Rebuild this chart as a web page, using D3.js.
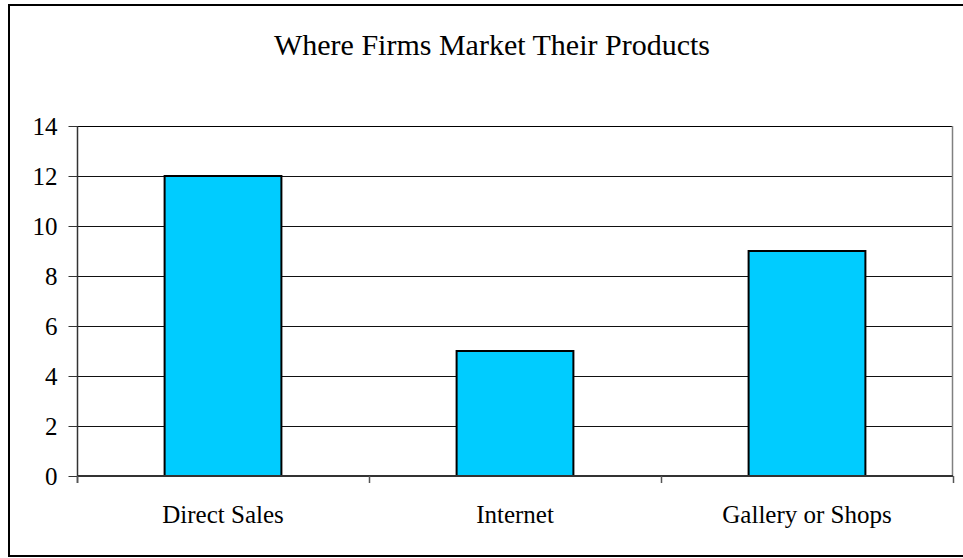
<!DOCTYPE html>
<html>
<head>
<meta charset="utf-8">
<script src="https://cdn.jsdelivr.net/npm/d3@7"></script>
<style>
  html, body { margin: 0; padding: 0; background: #fff; }
  svg { display: block; }
  text { font-family: "Liberation Serif", "Times New Roman", serif; fill: #000; }
</style>
</head>
<body>
<svg id="chart" width="963" height="558"></svg>
<script>
// Chart data
const title = "Where Firms Market Their Products";
const categories = ["Direct Sales", "Internet", "Gallery or Shops"];
const values = [12, 5, 9];
const yTicks = [0, 2, 4, 6, 8, 10, 12, 14];

const svg = d3.select("#chart");
const W = 963, H = 558;
const plot = { left: 77, right: 953, top: 126, bottom: 476 };
const serif = "'Liberation Serif', 'Times New Roman', serif";

// Outer chart frame
svg.append("rect")
  .attr("x", 9).attr("y", 5)
  .attr("width", W).attr("height", H - 7)
  .attr("fill", "#fff").attr("stroke", "#000").attr("stroke-width", 2);

// Scales
const x = d3.scaleBand()
  .domain(categories)
  .range([plot.left, plot.right])
  .paddingInner(0.6)
  .paddingOuter(0.3);
const step = x.step();

const y = d3.scaleLinear()
  .domain([0, 14])
  .range([plot.bottom, plot.top]);

// Horizontal gridlines
svg.append("g")
  .selectAll("line")
  .data(yTicks.filter(d => d > 0))
  .join("line")
  .attr("x1", plot.left).attr("x2", plot.right)
  .attr("y1", d => Math.round(y(d)) + 0.5)
  .attr("y2", d => Math.round(y(d)) + 0.5)
  .attr("stroke", d => d === 14 ? "#000" : "#111")
  .attr("stroke-width", 1);

// Right edge of the plot area
svg.append("line")
  .attr("x1", plot.right - 0.5).attr("x2", plot.right - 0.5)
  .attr("y1", plot.top).attr("y2", plot.bottom)
  .attr("stroke", "#808080").attr("stroke-width", 1.5);

// Bars
svg.append("g")
  .selectAll("rect")
  .data(values)
  .join("rect")
  .attr("x", (d, i) => x(categories[i]))
  .attr("y", d => y(d))
  .attr("width", x.bandwidth())
  .attr("height", d => y(0) - y(d))
  .attr("fill", "#00CCFF")
  .attr("stroke", "#000")
  .attr("stroke-width", 2);

// Y axis
const yAxis = svg.append("g")
  .attr("transform", `translate(${plot.left + 0.5},0)`)
  .call(d3.axisLeft(y).tickValues(yTicks).tickSize(9).tickPadding(11).tickFormat(d3.format("d")))
  .attr("font-family", serif)
  .attr("font-size", 25);
yAxis.select(".domain").attr("stroke", "#333").attr("stroke-width", 1.5)
  .attr("d", `M0,${plot.top}V${plot.bottom + 7}`);
yAxis.selectAll(".tick line").attr("stroke", "#333");
yAxis.selectAll(".tick text").attr("fill", "#000");

// X axis: category labels centred under bars
const xAxis = svg.append("g")
  .attr("transform", `translate(0,${plot.bottom})`)
  .call(d3.axisBottom(x).tickSize(0).tickPadding(29))
  .attr("font-family", serif)
  .attr("font-size", 25);
xAxis.select(".domain").attr("stroke", "#333").attr("stroke-width", 2)
  .attr("d", `M${plot.left},0H${plot.right}`);
xAxis.selectAll(".tick text").attr("fill", "#000");

// Category boundary ticks
const boundaries = d3.range(categories.length + 1).map(i => plot.left + i * step);
svg.append("g")
  .selectAll("line")
  .data(boundaries)
  .join("line")
  .attr("x1", d => Math.round(d) + 0.5).attr("x2", d => Math.round(d) + 0.5)
  .attr("y1", plot.bottom).attr("y2", plot.bottom + 7)
  .attr("stroke", "#555").attr("stroke-width", 1.5);

// Title
svg.append("text")
  .attr("x", 492).attr("y", 55)
  .attr("text-anchor", "middle")
  .attr("font-family", serif)
  .style("font-size", "30px")
  .text(title);
</script>
</body>
</html>
